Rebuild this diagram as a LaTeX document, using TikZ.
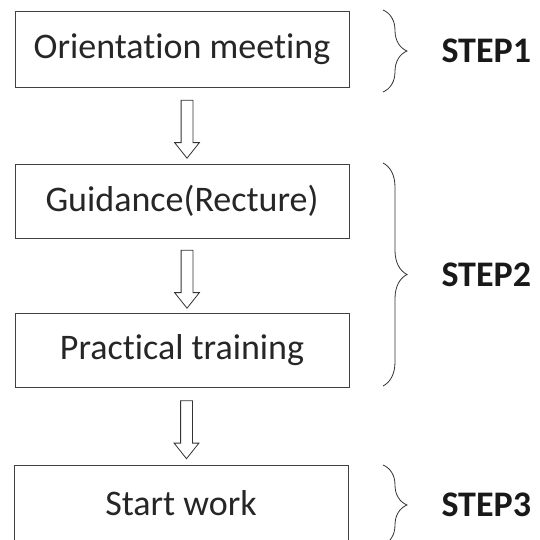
\documentclass[tikz,border=0pt]{standalone}
\usepackage{fontspec}
\setmainfont{Carlito}[Ligatures=NoCommon]
\usetikzlibrary{calc,shapes.arrows,decorations.pathreplacing}

\begin{document}
\begin{tikzpicture}[x=1pt,y=-1pt,
    stepbox/.style={draw=black!75,line width=0.9pt,rectangle,minimum width=334pt,minimum height=76pt,text=black!85,font=\fontsize{36}{42}\selectfont},
    hollow/.style={draw=black!80,line width=0.8pt,single arrow,shape border rotate=270,minimum height=58pt,minimum width=24pt,inner sep=5.5pt,single arrow head extend=6.5pt,single arrow tip angle=77},
    brc/.style={draw=black!80,line width=0.8pt,decorate,decoration={brace,amplitude=24pt}},
    steplbl/.style={font=\bfseries\fontsize{36}{42}\selectfont,text=black!90,anchor=west}]
                  \clip (0,0) rectangle (539,540);
                  \node[stepbox] (orient) at (182,49) {Orientation meeting};
                  \node[stepbox,minimum height=74pt] (guide) at (182,201) {Guidance(Recture)};
                  \node[stepbox,minimum height=74pt] (train) at (182,350) {Practical training};
                  \node[stepbox] (start) at (181,503) {Start work};

                  \node[hollow] (a1) at ($(orient.south)!0.5!(guide.north)+(5,0)$) {};
                  \node[hollow] (a2) at ($(guide.south)!0.5!(train.north)+(5,0)$) {};
                  \node[hollow] (a3) at ($(train.south)!0.5!(start.north)+(5,0)$) {};

                  \coordinate (b1t) at (383,10);
                  \coordinate (b1b) at (383,92);
                  \coordinate (b2t) at (383,163);
                  \coordinate (b2b) at (383,386);
                  \coordinate (b3t) at (383,465);
                  \coordinate (b3b) at (383,545);
                  \draw[brc] (b1t) -- (b1b);
                  \draw[brc] (b2t) -- (b2b);
                  \draw[brc] (b3t) -- (b3b);
                  \node[steplbl] (s1) at ($(b1t)!0.5!(b1b)+(55,0)$) {STEP1};
                  \node[steplbl] (s2) at ($(b2t)!0.5!(b2b)+(55,0)$) {STEP2};
                  \node[steplbl] (s3) at ($(b3t)!0.5!(b3b)+(55,0)$) {STEP3};
              \end{tikzpicture}
\end{document}
